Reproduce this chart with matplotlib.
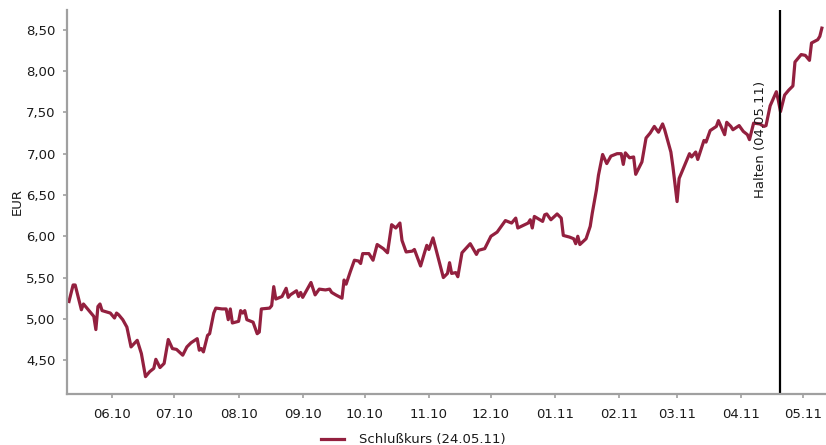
import matplotlib
matplotlib.use('Agg')
import matplotlib.pyplot as plt
import matplotlib.dates as mdates
import matplotlib.ticker as mticker
import pandas as pd

dates = [
    '2010-05-25', '2010-05-27', '2010-05-28', '2010-05-31', '2010-06-01', '2010-06-02',
    '2010-06-06', '2010-06-07', '2010-06-08', '2010-06-09', '2010-06-10', '2010-06-14',
    '2010-06-16', '2010-06-17', '2010-06-18', '2010-06-20', '2010-06-22', '2010-06-24',
    '2010-06-27', '2010-06-29', '2010-07-01', '2010-07-03', '2010-07-05', '2010-07-06',
    '2010-07-08', '2010-07-10', '2010-07-12', '2010-07-14', '2010-07-16', '2010-07-19',
    '2010-07-21', '2010-07-23', '2010-07-26', '2010-07-27', '2010-07-28', '2010-07-29',
    '2010-07-31', '2010-08-01', '2010-08-03', '2010-08-04', '2010-08-07', '2010-08-09',
    '2010-08-10', '2010-08-11', '2010-08-12', '2010-08-15', '2010-08-16', '2010-08-17',
    '2010-08-18', '2010-08-19', '2010-08-22', '2010-08-24', '2010-08-25', '2010-08-26',
    '2010-08-30', '2010-08-31', '2010-09-01', '2010-09-02', '2010-09-05', '2010-09-07',
    '2010-09-08', '2010-09-09', '2010-09-12', '2010-09-13', '2010-09-14', '2010-09-15',
    '2010-09-19', '2010-09-21', '2010-09-23', '2010-09-26', '2010-09-28', '2010-09-29',
    '2010-10-01', '2010-10-04', '2010-10-05', '2010-10-06', '2010-10-08', '2010-10-10',
    '2010-10-12', '2010-10-13', '2010-10-14', '2010-10-17', '2010-10-19', '2010-10-21',
    '2010-10-24', '2010-10-26', '2010-10-28', '2010-10-30', '2010-11-01', '2010-11-02',
    '2010-11-04', '2010-11-07', '2010-11-08', '2010-11-11', '2010-11-13', '2010-11-14',
    '2010-11-15', '2010-11-17', '2010-11-22', '2010-11-24', '2010-11-25', '2010-11-26',
    '2010-11-28', '2010-11-29', '2010-12-01', '2010-12-05', '2010-12-08', '2010-12-09',
    '2010-12-12', '2010-12-15', '2010-12-18', '2010-12-22', '2010-12-25', '2010-12-27',
    '2010-12-28', '2011-01-02', '2011-01-03', '2011-01-04', '2011-01-05', '2011-01-09',
    '2011-01-10', '2011-01-11', '2011-01-13', '2011-01-16', '2011-01-18', '2011-01-19',
    '2011-01-22', '2011-01-24', '2011-01-25', '2011-01-26', '2011-01-27', '2011-01-30',
    '2011-02-01', '2011-02-02', '2011-02-04', '2011-02-05', '2011-02-07', '2011-02-09',
    '2011-02-11', '2011-02-14', '2011-02-16', '2011-02-17', '2011-02-18', '2011-02-20',
    '2011-02-22', '2011-02-23', '2011-02-24', '2011-02-26', '2011-02-28', '2011-03-02',
    '2011-03-04', '2011-03-06', '2011-03-08', '2011-03-09', '2011-03-12', '2011-03-13',
    '2011-03-15', '2011-03-16', '2011-03-19', '2011-03-21', '2011-03-22', '2011-03-24',
    '2011-03-25', '2011-03-28', '2011-03-29', '2011-03-31', '2011-04-03', '2011-04-04',
    '2011-04-07', '2011-04-08', '2011-04-10', '2011-04-11', '2011-04-14', '2011-04-16',
    '2011-04-18', '2011-04-19', '2011-04-21', '2011-04-24', '2011-04-26', '2011-04-27',
    '2011-04-29', '2011-05-02', '2011-05-03', '2011-05-04', '2011-05-06', '2011-05-08',
    '2011-05-10', '2011-05-11', '2011-05-14', '2011-05-16', '2011-05-18', '2011-05-19',
    '2011-05-22', '2011-05-23', '2011-05-24',
]
prices = [
    5.21, 5.41, 5.41, 5.11, 5.18, 5.15,
    5.03, 4.87, 5.15, 5.18, 5.10, 5.07,
    5.01, 5.07, 5.05, 4.99, 4.90, 4.66,
    4.74, 4.58, 4.30, 4.36, 4.40, 4.51,
    4.41, 4.46, 4.75, 4.64, 4.63, 4.56,
    4.66, 4.71, 4.76, 4.62, 4.64, 4.60,
    4.80, 4.82, 5.07, 5.13, 5.12, 5.12,
    4.99, 5.12, 4.95, 4.97, 5.10, 5.07,
    5.10, 4.99, 4.96, 4.82, 4.84, 5.12,
    5.13, 5.16, 5.39, 5.24, 5.27, 5.37,
    5.26, 5.29, 5.34, 5.27, 5.32, 5.26,
    5.44, 5.29, 5.36, 5.35, 5.36, 5.32,
    5.29, 5.25, 5.47, 5.42, 5.57, 5.71,
    5.70, 5.67, 5.79, 5.79, 5.71, 5.90,
    5.85, 5.80, 6.14, 6.10, 6.16, 5.95,
    5.81, 5.82, 5.84, 5.64, 5.81, 5.89,
    5.84, 5.98, 5.50, 5.55, 5.68, 5.55,
    5.56, 5.51, 5.80, 5.91, 5.78, 5.83,
    5.85, 6.00, 6.05, 6.19, 6.16, 6.22,
    6.10, 6.16, 6.20, 6.10, 6.24, 6.18,
    6.26, 6.27, 6.20, 6.27, 6.22, 6.01,
    5.99, 5.97, 5.91, 6.00, 5.90, 5.97,
    6.12, 6.28, 6.56, 6.74, 6.99, 6.88,
    6.97, 7.00, 7.00, 6.87, 7.01, 6.95,
    6.96, 6.75, 6.80, 6.90, 7.19, 7.25,
    7.33, 7.26, 7.36, 7.29, 7.02, 6.84,
    6.42, 6.70, 6.88, 7.00, 6.96, 7.02,
    6.93, 7.16, 7.14, 7.28, 7.33, 7.40,
    7.23, 7.38, 7.33, 7.29, 7.34, 7.27,
    7.23, 7.17, 7.37, 7.36, 7.33, 7.34,
    7.58, 7.75, 7.64, 7.51, 7.71, 7.77,
    7.82, 8.11, 8.20, 8.19, 8.13, 8.34,
    8.38, 8.42, 8.52,
]
y_ticks = [4.5, 5.0, 5.5, 6.0, 6.5, 7.0, 7.5, 8.0, 8.5]
halt_date = '2011-05-04'
halt_label = 'Halten (04.05.11)'
series_label = 'Schlußkurs (24.05.11)'

df = pd.DataFrame({'date': pd.to_datetime(dates), 'close': prices})

line_color = '#93203f'
axis_color = '#a0a0a0'
text_color = '#1a1a1a'

plt.rcParams['font.family'] = ['DejaVu Sans']
plt.rcParams['font.size'] = 9.5

fig = plt.figure(figsize=(8.26, 4.45), dpi=100)
ax = fig.add_axes([0.081, 0.1146, 0.919, 0.863])

ax.plot(df['date'], df['close'], color=line_color, linewidth=2.3,
        solid_joinstyle='round', label=series_label)

halt = pd.Timestamp(halt_date)
ax.axvline(halt, color='black', linewidth=1.6)
ax.annotate(halt_label, xy=(halt, 0.815), xycoords=('data', 'axes fraction'),
            xytext=(-10, 0), textcoords='offset points',
            rotation=90, ha='right', va='top', color=text_color, fontsize=9.5)

ax.set_xlim(pd.Timestamp('2010-05-24'), pd.Timestamp('2011-05-26'))
ax.set_ylim(4.09, 8.74)
ax.set_yticks(y_ticks)
ax.yaxis.set_major_formatter(mticker.FuncFormatter(lambda v, p: f'{v:.2f}'.replace('.', ',')))
ax.xaxis.set_major_locator(mdates.MonthLocator(bymonthday=15))
ax.xaxis.set_major_formatter(mdates.DateFormatter('%m.%y'))

ax.set_ylabel('EUR', color=text_color, fontsize=9.5, labelpad=2)

for side in ['top', 'right']:
    ax.spines[side].set_visible(False)
for side in ['left', 'bottom']:
    ax.spines[side].set_color(axis_color)
    ax.spines[side].set_linewidth(1.6)
ax.tick_params(axis='both', colors=axis_color, labelcolor=text_color, length=3, width=1.2)
ax.tick_params(axis='x', pad=7)
ax.tick_params(axis='y', pad=5)

fig.legend(loc='lower center', bbox_to_anchor=(0.5, -0.03), frameon=False,
           handlelength=1.8, handletextpad=1.1, fontsize=9.5, labelcolor=text_color)

fig.savefig('out.png', dpi=100)
plt.close(fig)
